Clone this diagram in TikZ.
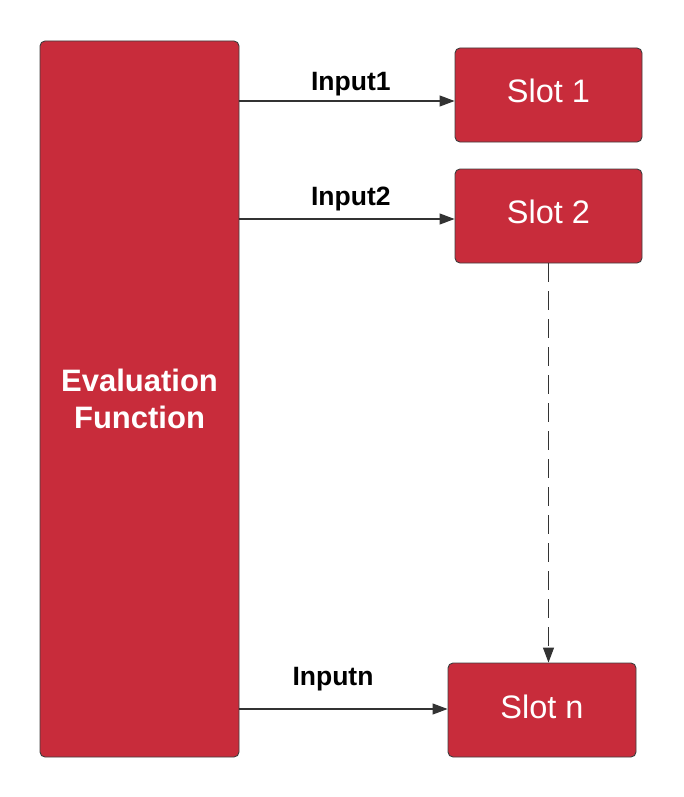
\documentclass[tikz,border=0pt]{standalone}
\usepackage{fontspec}
\setmainfont{Liberation Sans}
\usetikzlibrary{arrows.meta}
\definecolor{boxred}{HTML}{C82C3B}
\definecolor{edgegray}{HTML}{3F3F3F}
\definecolor{linegray}{HTML}{333333}
\begin{document}
\begin{tikzpicture}[x=1pt,y=-1pt,
  redbox/.style={draw=edgegray,line width=0.9pt,fill=boxred,rounded corners=5pt,
    text=white,inner sep=0pt,align=center},
  slotbox/.style={redbox,minimum height=94pt,font=\fontsize{32.5}{38}\selectfont},
  conn/.style={draw=linegray,line width=1.1pt,-{Triangle[length=15pt,width=11pt]}},
  inlabel/.style={font=\fontsize{26.5}{31}\selectfont\bfseries,anchor=base,inner sep=0pt}
]
\useasboundingbox (0,0) rectangle (683,797);
\node[redbox,minimum width=199pt,minimum height=716pt,font=\fontsize{31}{37}\selectfont\bfseries]
  (eval) at (139.5,399) {Evaluation\\Function};
\node[slotbox,minimum width=187pt] (slot1) at (548.5,95) {\raisebox{8pt}{Slot 1}};
\node[slotbox,minimum width=187pt] (slot2) at (548.5,216) {\raisebox{8pt}{Slot 2}};
\node[slotbox,minimum width=188pt] (slotn) at (542,710) {\raisebox{7pt}{Slot n}};
\coordinate (o1) at (eval.east |- 0,101);
\coordinate (o2) at (eval.east |- 0,219);
\coordinate (on) at (eval.east |- 0,709);
\draw[conn] (o1) -- (o1 -| slot1.west);
\draw[conn] (o2) -- (o2 -| slot2.west);
\draw[conn] (on) -- (on -| slotn.west);
\draw[conn,dash pattern=on 19pt off 9pt] (slot2.south) -- (slot2.south |- slotn.north);
\node[inlabel] (l1) at (350.8,91) {Input1};
\node[inlabel] (l2) at (350.8,205) {Input2};
\node[inlabel] (ln) at (333,685) {Inputn};
\end{tikzpicture}
\end{document}
